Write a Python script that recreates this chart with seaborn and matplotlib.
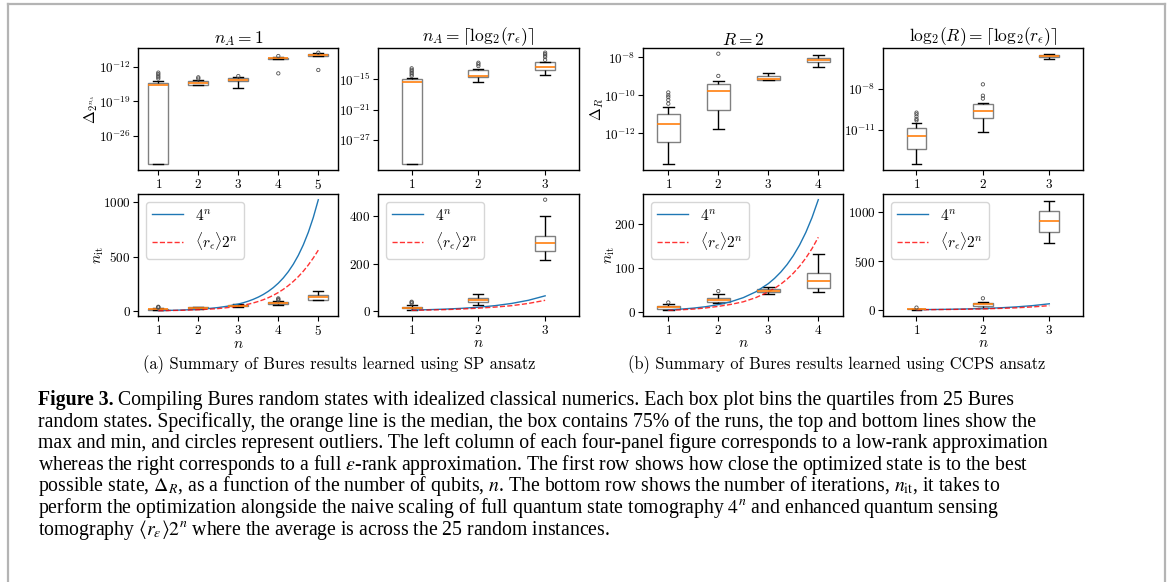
import numpy as np
import pandas as pd
import matplotlib
matplotlib.use("Agg")
import matplotlib.pyplot as plt
import seaborn as sns
from matplotlib.lines import Line2D
from matplotlib.ticker import NullLocator

plt.rcParams.update({
    "font.family": "cmr10",
    "mathtext.fontset": "cm",
    "axes.formatter.use_mathtext": True,
    "axes.linewidth": 1.0,
})

# ---------------- data ----------------
# Top row: log10 of Delta, five-number summaries per n, plus outliers
a_top_n = [1, 2, 3, 4, 5]
a_top_lo = [-31.7, -15.75, -16.35, -10.55, -9.9]
a_top_q1 = [-31.7, -15.6, -14.9, -10.5, -9.85]
a_top_med = [-15.75, -15.35, -14.7, -10.3, -9.64]
a_top_q3 = [-15.2, -14.95, -14.35, -10.2, -9.5]
a_top_hi = [-14.9, -14.75, -14.1, -9.98, -9.3]
a_top_out = [[-14.4, -14.1, -13.8, -13.5, -13.2], [-14.4, -14.15], [-13.9],
             [-13.35, -9.85], [-12.67, -9.18]]

a2_top_n = [1, 2, 3]
a2_top_lo = [-31.8, -15.6, -14.27]
a2_top_q1 = [-31.8, -14.67, -13.3]
a2_top_med = [-15.6, -14.35, -12.7]
a2_top_q3 = [-15.07, -13.3, -11.7]
a2_top_hi = [-14.86, -13.1, -11.65]
a2_top_out = [[-14.4, -14.1, -13.8, -13.5, -13.2, -12.9], [-12.45, -12.1, -11.8],
              [-11.25, -10.7, -10.4, -10.1, -9.82]]

b_top_n = [1, 2, 3, 4]
b_top_lo = [-13.63, -11.77, -9.21, -8.53]
b_top_q1 = [-12.46, -10.79, -9.21, -8.26]
b_top_med = [-11.53, -9.77, -9.16, -8.16]
b_top_q3 = [-10.97, -9.42, -8.97, -8.05]
b_top_hi = [-10.6, -9.26, -8.84, -7.9]
b_top_out = [[-10.44, -10.25, -10.1, -10.0, -9.85], [-8.98, -7.81], [], []]

b2_top_n = [1, 2, 3]
b2_top_lo = [-13.51, -11.12, -5.83]
b2_top_q1 = [-12.41, -10.14, -5.68]
b2_top_med = [-11.46, -9.61, -5.61]
b2_top_q3 = [-10.88, -9.12, -5.51]
b2_top_hi = [-10.51, -9.05, -5.44]
b2_top_out = [[-10.3, -10.2, -10.02, -9.85, -9.73], [-8.7, -8.49, -7.66], []]

# Bottom row: number of iterations
a_bot_lo = [5, 20, 34, 56, 98]
a_bot_q1 = [11, 26, 44, 62, 104]
a_bot_med = [14, 30, 49, 71, 126]
a_bot_q3 = [17, 35, 55, 80, 147]
a_bot_hi = [25, 40, 62, 90, 181]
a_bot_out = [[32, 36, 39], [], [], [100, 108, 116], []]

a2_bot_lo = [5, 24, 213]
a2_bot_q1 = [12, 37, 254]
a2_bot_med = [14, 45, 285]
a2_bot_q3 = [18, 53, 317]
a2_bot_hi = [25, 70, 399]
a2_bot_out = [[32, 36, 39], [], [469]]

b_bot_lo = [3, 19, 40, 46]
b_bot_q1 = [7, 22, 44, 54]
b_bot_med = [10, 26, 48, 70]
b_bot_q3 = [14, 31, 52, 88]
b_bot_hi = [17, 40, 56, 131]
b_bot_out = [[21], [47], [], []]

b2_bot_lo = [3, 17, 683]
b2_bot_q1 = [7, 44, 796]
b2_bot_med = [10, 58, 908]
b2_bot_q3 = [13, 72, 1017]
b2_bot_hi = [15, 79, 1119]
b2_bot_out = [[25], [120], []]

# reference curves
curve_n = [1, 1.25, 1.5, 1.75, 2, 2.25, 2.5, 2.75, 3, 3.125, 3.25, 3.375, 3.5,
           3.625, 3.75, 3.875, 4, 4.125, 4.25, 4.375, 4.5, 4.625, 4.75, 4.875, 5]
curve_4n = [4, 5.66, 8, 11.31, 16, 22.63, 32, 45.25, 64, 76.1, 90.5, 107.6, 128,
            152.2, 181, 215.3, 256, 304.4, 362, 430.5, 512, 608.9, 724, 861.1, 1024]
curve_r2n = [3, 4.2, 5.8, 8.4, 12, 16.5, 22.5, 32, 45, 53.2, 62.9, 74.2, 87.8,
             103.6, 122.4, 144.3, 170, 199.4, 233.5, 272.1, 315.9, 366, 423.5, 488.2, 560]

W, H = 1168, 582


def rect(l, r, t, b):
    return [l / W, 1 - b / H, (r - l) / W, (b - t) / H]


fig = plt.figure(figsize=(W / 100, H / 100), dpi=100)

GRAY = "#808080"


def draw_boxes(ax, n_vals, lo, q1, med, q3, hi, outl, width, log):
    rows = []
    for n, a, b, c, d, e in zip(n_vals, lo, q1, med, q3, hi):
        vals = [a] + [b] * 6 + [c] * 11 + [d] * 6 + [e]
        rows += [(n, v) for v in vals]
    df = pd.DataFrame(rows, columns=["n", "v"])
    orows = [(n, v) for n, o in zip(n_vals, outl) for v in o]
    dfo = pd.DataFrame(orows, columns=["n", "v"])
    if log:
        df["v"] = 10.0 ** df["v"]
        dfo["v"] = 10.0 ** dfo["v"]
    sns.boxplot(data=df, x="n", y="v", native_scale=True, width=width,
                whis=(0, 100), log_scale=(False, True) if log else None,
                color="white", linecolor="black", linewidth=1.0, fliersize=0,
                boxprops=dict(edgecolor=GRAY, facecolor="white"),
                medianprops=dict(color="#ff7f0e", linewidth=1.2),
                whiskerprops=dict(color="black"), capprops=dict(color="black"),
                ax=ax)
    if len(dfo):
        sns.stripplot(data=dfo, x="n", y="v", native_scale=True, jitter=False,
                      marker="o", size=2.4, linewidth=0.6, edgecolor="#505050",
                      facecolor="none", ax=ax)


def finish(ax, n_vals, ylim, yticks, log):
    ax.set_xlim(0.5, len(n_vals) + 0.5)
    ax.set_xticks(n_vals)
    ax.set_ylim(*ylim)
    ax.set_yticks(yticks)
    if log:
        ax.yaxis.set_minor_locator(NullLocator())
    ax.tick_params(labelsize=9.5, length=3.5, pad=2)
    ax.set_xlabel("")
    ax.set_ylabel("")


def draw_curves(ax, nmax):
    k = curve_n.index(nmax) + 1
    sns.lineplot(x=curve_n[:k], y=curve_4n[:k], ax=ax, color="#1f77b4",
                 linewidth=1.0, label=r"$4^n$")
    sns.lineplot(x=curve_n[:k], y=curve_r2n[:k], ax=ax, color="red", alpha=0.8,
                 linestyle="--", linewidth=1.0, label=r"$\langle r_\epsilon\rangle 2^n$")
    ax.legend(loc="upper left", fontsize=11)


def ylab(ax, text, xr):
    ax.set_ylabel(text, fontsize=11)
    ax.yaxis.set_label_coords(xr, 0.5)


cols = [(138.3, 338.3), (378.3, 578.5), (643.3, 843.3), (883.3, 1082.5)]
top_tb = (48, 170)
bot_tb = (194, 316)
TS = 12.5

# --- top row ---
ax = fig.add_axes(rect(*cols[0], *top_tb))
draw_boxes(ax, a_top_n, a_top_lo, a_top_q1, a_top_med, a_top_q3, a_top_hi, a_top_out, 0.5, True)
finish(ax, a_top_n, (10 ** -32.85, 10 ** -8.23), [1e-26, 1e-19, 1e-12], True)
ax.set_title(r"$n_A = 1$", fontsize=TS, pad=2)
ylab(ax, r"$\Delta_{2^{n_A}}$", -0.19)

ax = fig.add_axes(rect(*cols[1], *top_tb))
draw_boxes(ax, a2_top_n, a2_top_lo, a2_top_q1, a2_top_med, a2_top_q3, a2_top_hi, a2_top_out, 0.3, True)
finish(ax, a2_top_n, (10 ** -32.9, 10 ** -8.9), [1e-27, 1e-21, 1e-15], True)
ax.set_title(r"$n_A = \lceil \mathrm{log}_2(r_\epsilon) \rceil$", fontsize=TS, pad=2)

ax = fig.add_axes(rect(*cols[2], *top_tb))
draw_boxes(ax, b_top_n, b_top_lo, b_top_q1, b_top_med, b_top_q3, b_top_hi, b_top_out, 0.45, True)
finish(ax, b_top_n, (10 ** -13.93, 10 ** -7.51), [1e-12, 1e-10, 1e-8], True)
ax.set_title(r"$R = 2$", fontsize=TS, pad=2)
ylab(ax, r"$\Delta_R$", -0.185)

ax = fig.add_axes(rect(*cols[3], *top_tb))
draw_boxes(ax, b2_top_n, b2_top_lo, b2_top_q1, b2_top_med, b2_top_q3, b2_top_hi, b2_top_out, 0.3, True)
finish(ax, b2_top_n, (10 ** -13.93, 10 ** -5.0), [1e-11, 1e-8], True)
ax.set_title(r"$\mathrm{log}_2(R) = \lceil \mathrm{log}_2(r_\epsilon) \rceil$", fontsize=TS, pad=2)

# --- bottom row ---
ax = fig.add_axes(rect(*cols[0], *bot_tb))
draw_boxes(ax, a_top_n, a_bot_lo, a_bot_q1, a_bot_med, a_bot_q3, a_bot_hi, a_bot_out, 0.5, False)
draw_curves(ax, 5)
finish(ax, a_top_n, (-46, 1077), [0, 500, 1000], False)
ax.set_xlabel(r"$n$", fontsize=11, labelpad=0)
ylab(ax, r"$n_{\rm it}$", -0.16)

ax = fig.add_axes(rect(*cols[1], *bot_tb))
draw_boxes(ax, a2_top_n, a2_bot_lo, a2_bot_q1, a2_bot_med, a2_bot_q3, a2_bot_hi, a2_bot_out, 0.3, False)
draw_curves(ax, 3)
finish(ax, a2_top_n, (-21, 493), [0, 200, 400], False)
ax.set_xlabel(r"$n$", fontsize=11, labelpad=0)

ax = fig.add_axes(rect(*cols[2], *bot_tb))
draw_boxes(ax, b_top_n, b_bot_lo, b_bot_q1, b_bot_med, b_bot_q3, b_bot_hi, b_bot_out, 0.45, False)
draw_curves(ax, 4)
finish(ax, b_top_n, (-10, 269), [0, 100, 200], False)
ax.set_xlabel(r"$n$", fontsize=11, labelpad=0)
ylab(ax, r"$n_{\rm it}$", -0.13)

ax = fig.add_axes(rect(*cols[3], *bot_tb))
draw_boxes(ax, b2_top_n, b2_bot_lo, b2_bot_q1, b2_bot_med, b2_bot_q3, b2_bot_hi, b2_bot_out, 0.3, False)
draw_curves(ax, 3)
finish(ax, b2_top_n, (-61, 1188), [0, 500, 1000], False)
ax.set_xlabel(r"$n$", fontsize=11, labelpad=0)

# sub-captions
fig.text(339 / W, 1 - 365 / H, "(a) Summary of Bures results learned using SP ansatz",
         ha="center", va="center", fontsize=11.9)
fig.text(837 / W, 1 - 365 / H, "(b) Summary of Bures results learned using CCPS ansatz",
         ha="center", va="center", fontsize=11.9)

# main caption
cap_kw = dict(fontsize=14.2, family=["Liberation Serif", "DejaVu Serif"],
              math_fontfamily="stix", va="baseline", ha="left")
lines = [
    "Compiling Bures random states with idealized classical numerics. Each box plot bins the quartiles from 25 Bures",
    "random states. Specifically, the orange line is the median, the box contains 75% of the runs, the top and bottom lines show the",
    "max and min, and circles represent outliers. The left column of each four-panel figure corresponds to a low-rank approximation",
    r"whereas the right corresponds to a full $\epsilon$-rank approximation. The first row shows how close the optimized state is to the best",
    r"possible state, $\Delta_R$, as a function of the number of qubits, $n$. The bottom row shows the number of iterations, $n_{\rm it}$, it takes to",
    r"perform the optimization alongside the naive scaling of full quantum state tomography $4^n$ and enhanced quantum sensing",
    r"tomography $\langle r_\epsilon\rangle 2^n$ where the average is across the 25 random instances.",
]
x0 = 38.3
base = 405.0
step = 21.6
t_bold = fig.text(x0 / W, 1 - base / H, "Figure 3.", fontweight="bold", **cap_kw)
fig.canvas.draw()
bb = t_bold.get_window_extent()
fig.text((bb.x1 + 4.5) / W, 1 - base / H, lines[0], **cap_kw)
for i, ln in enumerate(lines[1:], start=1):
    fig.text(x0 / W, 1 - (base + i * step) / H, ln, **cap_kw)

# page frame
fc = "#b4b4b4"
fig.add_artist(Line2D([8 / W, 8 / W], [0, 1 - 4 / H], transform=fig.transFigure, color=fc, lw=1.6))
fig.add_artist(Line2D([8 / W, 1165 / W], [1 - 4 / H, 1 - 4 / H], transform=fig.transFigure, color=fc, lw=1.6))
fig.add_artist(Line2D([1165 / W, 1165 / W], [0, 1 - 4 / H], transform=fig.transFigure, color=fc, lw=1.6))

fig.savefig("out.png", dpi=100)
